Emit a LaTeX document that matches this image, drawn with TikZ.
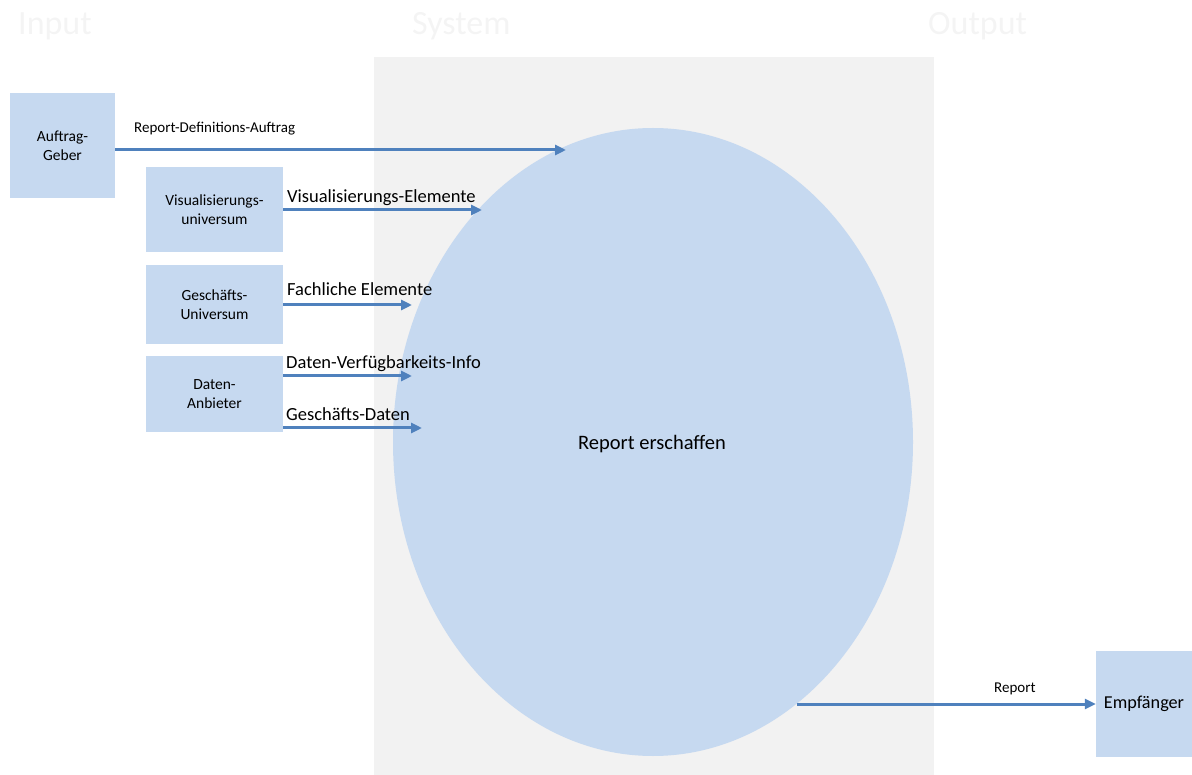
\documentclass[tikz,border=0pt]{standalone}
\usepackage{fontspec}
\setmainfont{Carlito}
\usetikzlibrary{arrows.meta,shapes.geometric}
\definecolor{boxblue}{HTML}{C6D9F0}
\definecolor{arrowblue}{HTML}{4F81BD}
\definecolor{sysgray}{HTML}{F2F2F2}
\definecolor{headgray}{HTML}{F4F4F4}
\begin{document}
\begin{tikzpicture}[x=1pt,y=1pt,
  box/.style={fill=boxblue,draw=none,inner sep=0pt,align=center,font=\fontsize{15.5}{19}\selectfont},
  arr/.style={draw=arrowblue,line width=3pt,-{Triangle[length=11pt,width=10pt]}},
  lblsmall/.style={anchor=base west,inner sep=0pt,font=\fontsize{15}{17}\selectfont},
  lblbig/.style={anchor=base west,inner sep=0pt,font=\fontsize{18.5}{21}\selectfont},
  head/.style={anchor=base west,inner sep=0pt,text=headgray,font=\fontsize{34}{38}\selectfont}]
\useasboundingbox (0,0) rectangle (1192,-775);
% system background
\fill[sysgray] (374,-57) rectangle (934,-775);
% headers
\node[head] (hin) at (18,-35) {Input};
\node[head] (hsys) at (412,-35) {System};
\node[head] (hout) at (928,-35) {Output};
% ellipse
\node[ellipse,fill=boxblue,draw=none,minimum width=520pt,minimum height=628pt,inner sep=0pt] (proc) at (653,-442) {};
\node[font=\fontsize{20.5}{24}\selectfont,inner sep=0pt] (proctext) at (652,-444) {Report erschaffen};
% boxes
\node[box,minimum width=105pt,minimum height=105pt] (auftrag) at (62.5,-145.5) {Auftrag-\\Geber};
\node[box,minimum width=137pt,minimum height=85pt] (visu) at (214.5,-209.5) {Visualisierungs-\\universum};
\node[box,minimum width=137pt,minimum height=79pt] (gesch) at (214.5,-304.5) {Geschäfts-\\Universum};
\node[box,minimum width=137pt,minimum height=76pt] (daten) at (214.5,-394) {Daten-\\Anbieter};
\node[box,minimum width=96pt,minimum height=106pt,font=\fontsize{18.2}{21}\selectfont] (empf) at (1144,-704) {Empfänger};
% endpoints
\coordinate (e1) at (566,-150);
\coordinate (e2) at (482,-210);
\coordinate (e3) at (412,-305);
\coordinate (e4) at (412,-376);
\coordinate (e5) at (422,-428);
\coordinate (e6) at (797,-704);
% arrows
\draw[arr] (auftrag.east |- e1) -- (e1);
\draw[arr] (visu.east |- e2) -- (e2);
\draw[arr] (gesch.east |- e3) -- (e3);
\draw[arr] (daten.east |- e4) -- (e4);
\draw[arr] (daten.east |- e5) -- (e5);
\draw[arr] (e6) -- (empf.west);
% labels
\node[lblsmall] (l1) at (134,-133) {Report-Definitions-Auftrag};
\node[lblbig] (l2) at (287,-203) {Visualisierungs-Elemente};
\node[lblbig] (l3) at (287,-296) {Fachliche Elemente};
\node[lblbig] (l4) at (286,-369) {Daten-Verfügbarkeits-Info};
\node[lblbig] (l5) at (286,-421) {Geschäfts-Daten};
\node[lblsmall] (l6) at (994,-692) {Report};
\end{tikzpicture}
\end{document}
